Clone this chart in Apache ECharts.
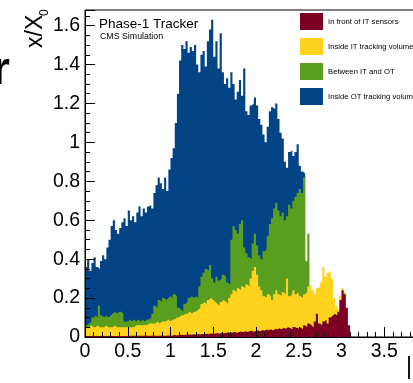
<!DOCTYPE html>
<html><head><meta charset="utf-8">
<script src="https://cdn.jsdelivr.net/npm/echarts@6/dist/echarts.min.js"></script>
<style>html,body{margin:0;padding:0;background:#fff}#c{width:413px;height:383px}</style>
</head><body><div id="c"></div>
<script>
// |eta| histogram, bin width 0.025 starting at 0
const etaBinWidth = 0.025;
const legendNames = ['In front of IT sensors', 'Inside IT tracking volume', 'Between IT and OT', 'Inside OT tracking volume'];
const layerColors = ['#7b0024', '#ffd21e', '#5a9e20', '#024486'];
const yTickLabels = ['0', '0.2', '0.4', '0.6', '0.8', '1', '1.2', '1.4', '1.6'];
const xTickLabels = ['0', '0.5', '1', '1.5', '2', '2.5', '3', '3.5'];

// visible top edge of each colour (stacked x/X0), read per bin
const topInsideOT = [
 0.36,0.40,0.34,0.38,0.41,0.36,0.35,0.39,0.42,0.40,
 0.46,0.50,0.57,0.60,0.55,0.53,0.56,0.59,0.61,0.57,
 0.65,0.60,0.62,0.59,0.64,0.67,0.62,0.66,0.64,0.67,
 0.68,0.66,0.74,0.78,0.82,0.79,0.76,0.82,0.75,0.86,
 0.92,0.97,1.10,1.25,1.42,1.50,1.48,1.52,1.46,1.49,
 1.47,1.50,1.40,1.36,1.45,1.47,1.39,1.52,1.58,1.63,
 1.44,1.52,1.38,1.56,1.36,1.30,1.33,1.28,1.36,1.30,
 1.22,1.26,1.32,1.24,1.38,1.16,1.14,1.19,1.20,1.23,
 1.19,1.12,1.09,1.04,1.00,1.08,1.16,1.18,1.17,1.20,
 1.12,1.05,1.02,0.90,0.87,0.95,0.96,0.93,0.95,0.99,
 0.88,0.85,0.84];
const topBetween = [
 0.06,0.07,0.08,0.10,0.11,0.10,0.16,0.11,0.10,0.11,
 0.10,0.11,0.12,0.13,0.12,0.13,0.13,0.12,0.08,0.08,
 0.09,0.08,0.09,0.08,0.09,0.08,0.09,0.08,0.09,0.09,
 0.10,0.12,0.16,0.15,0.19,0.18,0.20,0.19,0.20,0.21,
 0.20,0.22,0.21,0.15,0.14,0.13,0.17,0.18,0.20,0.21,
 0.20,0.21,0.20,0.26,0.31,0.33,0.35,0.34,0.37,0.30,
 0.28,0.31,0.29,0.30,0.32,0.31,0.28,0.27,0.50,0.57,
 0.55,0.53,0.58,0.60,0.46,0.43,0.41,0.40,0.48,0.53,
 0.47,0.42,0.40,0.44,0.45,0.52,0.58,0.61,0.66,0.69,
 0.65,0.62,0.64,0.60,0.62,0.68,0.66,0.70,0.72,0.74,
 0.76,0.74,0.82,0.39,0.53];
const topInsideIT = [
 0.05,0.05,0.06,0.05,0.05,0.06,0.05,0.05,0.05,0.06,
 0.05,0.05,0.05,0.06,0.05,0.05,0.05,0.05,0.05,0.05,
 0.05,0.05,0.05,0.06,0.06,0.06,0.06,0.06,0.06,0.07,
 0.07,0.07,0.07,0.08,0.07,0.08,0.08,0.08,0.09,0.08,
 0.09,0.09,0.10,0.10,0.11,0.11,0.12,0.12,0.13,0.12,
 0.13,0.13,0.14,0.15,0.17,0.18,0.17,0.19,0.20,0.19,
 0.18,0.17,0.16,0.18,0.19,0.18,0.17,0.20,0.22,0.24,
 0.23,0.25,0.24,0.26,0.25,0.27,0.26,0.30,0.34,0.36,
 0.32,0.26,0.24,0.21,0.20,0.22,0.21,0.19,0.22,0.24,
 0.22,0.21,0.23,0.22,0.30,0.21,0.22,0.24,0.22,0.23,
 0.21,0.20,0.22,0.23,0.26,0.27,0.24,0.22,0.25,0.26,
 0.28,0.36,0.31,0.33,0.34,0.30,0.20,0.16,0.14,0.21,
 0.25,0.23];
const topInFront = [
 0.005,0.005,0.005,0.005,0.005,0.005,0.005,0.005,0.005,0.005,
 0.005,0.005,0.005,0.005,0.005,0.005,0.005,0.005,0.005,0.005,
 0.006,0.006,0.006,0.006,0.006,0.006,0.006,0.006,0.006,0.006,
 0.006,0.006,0.007,0.006,0.007,0.006,0.007,0.007,0.008,0.007,
 0.008,0.010,0.008,0.010,0.012,0.010,0.012,0.011,0.013,0.012,
 0.014,0.012,0.015,0.013,0.016,0.014,0.017,0.015,0.018,0.016,
 0.018,0.020,0.017,0.022,0.019,0.021,0.024,0.020,0.023,0.026,
 0.022,0.025,0.028,0.024,0.030,0.026,0.029,0.032,0.027,0.031,
 0.034,0.030,0.036,0.032,0.038,0.035,0.040,0.034,0.042,0.038,
 0.045,0.040,0.048,0.043,0.050,0.046,0.040,0.052,0.047,0.044,
 0.05,0.04,0.06,0.05,0.07,0.06,0.05,0.08,0.12,0.07,
 0.06,0.08,0.09,0.07,0.10,0.11,0.12,0.11,0.13,0.19,
 0.24,0.22,0.15,0.06];

const FONT = "'Liberation Sans', Arial, Helvetica, sans-serif";

function histData(vals) {
  const d = vals.map((v, i) => [+(i * etaBinWidth).toFixed(4), v]);
  d.push([+(vals.length * etaBinWidth).toFixed(4), 0]);
  return d;
}
function layer(name, color, vals) {
  return {
    name, type: 'line', step: 'end', symbol: 'none', showSymbol: false,
    data: histData(vals), color: color,
    lineStyle: { width: 0, color: color },
    itemStyle: { color: color },
    areaStyle: { color: color, opacity: 1 },
    silent: true, animation: false
  };
}

const chart = echarts.init(document.getElementById('c'), null, { renderer: 'canvas' });
chart.setOption({
  animation: false,
  backgroundColor: '#ffffff',
  grid: { left: 85, top: 10, right: -14, bottom: 46, show: true, borderColor: '#000', borderWidth: 1,
          backgroundColor: 'transparent', containLabel: false, outerBoundsMode: 'none' },
  legend: {
    data: legendNames, orient: 'vertical', left: 300, top: 13, padding: 0,
    itemWidth: 23, itemHeight: 17, itemGap: 8, icon: 'rect', selectedMode: false,
    textStyle: { fontSize: 7.7, color: '#000', fontFamily: FONT }
  },
  xAxis: {
    type: 'value', min: 0, max: 4, interval: 0.5, z: 5,
    axisLine: { show: true, onZero: false, lineStyle: { color: '#000', width: 1 } },
    axisTick: { show: true, inside: true, length: 10, lineStyle: { color: '#000' } },
    minorTick: { show: true, splitNumber: 5, length: 5, lineStyle: { color: '#000' } },
    splitLine: { show: false }, minorSplitLine: { show: false },
    axisLabel: { fontSize: 19.5, color: '#000', margin: 5, fontFamily: FONT,
      formatter: (v) => { const i = Math.round(v / 0.5); return xTickLabels[i] !== undefined ? xTickLabels[i] : ''; } }
  },
  yAxis: {
    type: 'value', min: 0, max: 1.68, interval: 0.2, z: 5,
    axisLine: { show: true, onZero: false, lineStyle: { color: '#000', width: 1 } },
    axisTick: { show: true, inside: true, length: 10, lineStyle: { color: '#000' } },
    minorTick: { show: true, splitNumber: 4, length: 5, lineStyle: { color: '#000' } },
    splitLine: { show: false }, minorSplitLine: { show: false },
    axisLabel: { fontSize: 19.5, color: '#000', margin: 5, fontFamily: FONT, showMaxLabel: false,
      formatter: (v) => { const i = Math.round(v / 0.2); return Math.abs(v - i * 0.2) < 1e-6 && yTickLabels[i] !== undefined ? yTickLabels[i] : ''; } }
  },
  series: [
    layer(legendNames[3], layerColors[3], topInsideOT),
    layer(legendNames[2], layerColors[2], topBetween),
    layer(legendNames[1], layerColors[1], topInsideIT),
    layer(legendNames[0], layerColors[0], topInFront)
  ],
  graphic: [
    { type: 'text', x: 99, y: 24.3, style: { text: 'Phase-1 Tracker', x: 0, y: 0, fontSize: 13.5, fontFamily: FONT, fill: '#000', align: 'left', verticalAlign: 'middle' } },
    { type: 'text', x: 100, y: 36.4, style: { text: 'CMS Simulation', x: 0, y: 0, fontSize: 8.8, fontFamily: FONT, fill: '#000', align: 'left', verticalAlign: 'middle' } },
    { type: 'text', x: 36, y: 48, rotation: Math.PI / 2, style: { text: 'x/X', x: 0, y: 0, fontSize: 23, fontFamily: FONT, fill: '#000', align: 'left', verticalAlign: 'middle' } },
    { type: 'text', x: 44.5, y: 16, rotation: Math.PI / 2, style: { text: '0', x: 0, y: 0, fontSize: 12, fontFamily: FONT, fill: '#000', align: 'left', verticalAlign: 'middle' } },
    { type: 'text', x: 406, y: 368, style: { text: '|η|', x: 0, y: 0, fontSize: 23, fontFamily: FONT, fill: '#000', align: 'left', verticalAlign: 'middle' } },
    { type: 'text', x: -8, y: 71, style: { text: 'r', x: 0, y: 0, fontSize: 46, fontWeight: 'bold', fontFamily: FONT, fill: '#000', align: 'left', verticalAlign: 'middle' } },
    { type: 'text', x: -9, y: -23, style: { text: 'y', x: 0, y: 0, fontSize: 46, fontWeight: 'bold', fontFamily: FONT, fill: '#000', align: 'left', verticalAlign: 'middle' } }
  ]
});
</script>
</body></html>
